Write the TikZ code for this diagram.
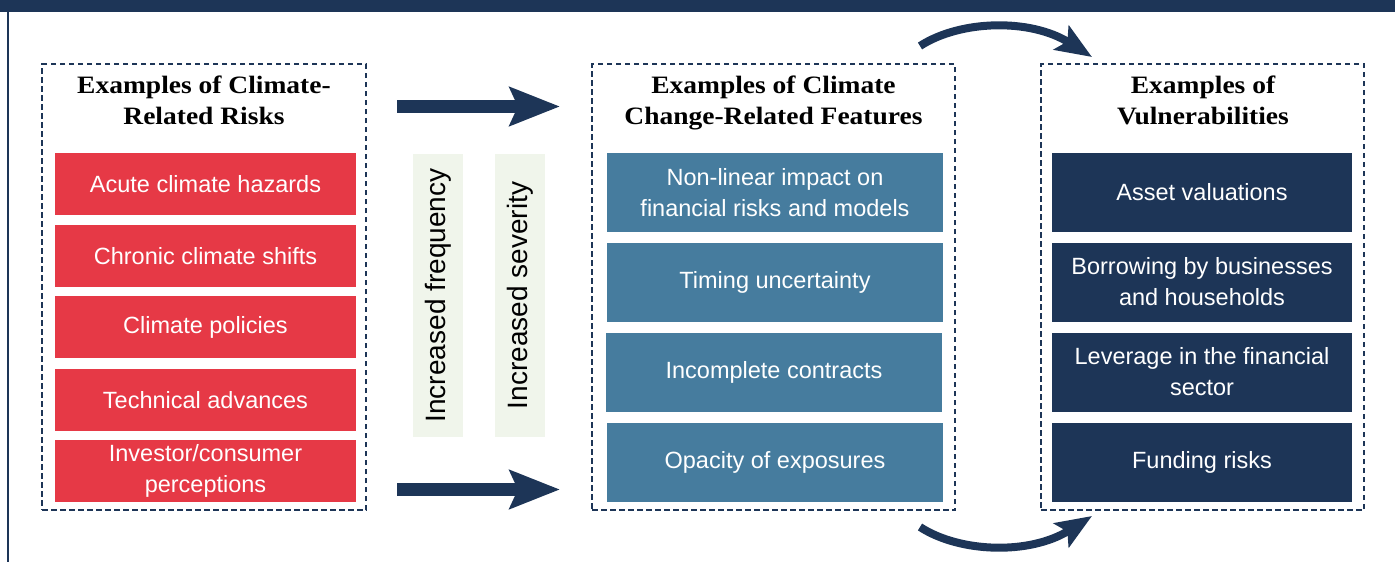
\documentclass[tikz,border=0pt]{standalone}
\usepackage{fontspec}
\setsansfont{Liberation Sans}
\newfontfamily\titlefont{Liberation Serif}[FakeStretch=1.1]
\usetikzlibrary{arrows.meta}
\definecolor{navy}{HTML}{1D3557}
\definecolor{riskred}{HTML}{E63946}
\definecolor{steel}{HTML}{467C9E}
\definecolor{mint}{HTML}{F0F5EB}
\tikzset{
  dashbox/.style={draw=navy, line width=2pt, dash pattern=on 5.5pt off 3.5pt, minimum width=324pt, minimum height=446pt, inner sep=0pt},
  boxtitle/.style={anchor=north, align=center, font=\titlefont\bfseries\fontsize{25}{30.5}\selectfont, text=black},
  item/.style={inner sep=0pt, align=center, text=white, font=\sffamily\fontsize{23.5}{31}\selectfont},
  redbox/.style={item, fill=riskred, minimum width=301pt, minimum height=62pt},
  bluebox/.style={item, fill=steel, minimum width=336pt, minimum height=79pt},
  navybox/.style={item, fill=navy, minimum width=300pt, minimum height=79pt},
  vbox/.style={fill=mint, minimum width=283pt, minimum height=50pt, inner sep=0pt, rotate=90, font=\sffamily\fontsize{28}{32}\selectfont, text=black},
  bigarrow/.style={draw=navy, line width=13pt, -{Stealth[length=50pt, width=38pt, inset=8pt]}},
  curvearrow/.style={draw=navy, line width=8pt, -{Stealth[length=36pt, width=28pt, inset=7pt]}}
}
\begin{document}
\begin{tikzpicture}[x=1pt, y=-1pt]
\useasboundingbox (0,0) rectangle (1395,562);
% frame
\fill[navy] (0,0) rectangle (1395,12);
\draw[navy, line width=2.5pt] (8,12) -- (8,562);

% dashed groups
\node[dashbox] (L) at (204,287) {};
\node[dashbox, minimum width=363pt] (M) at (773.5,287) {};
\node[dashbox, minimum width=323pt] (R) at (1202.5,287) {};

% titles
\node[boxtitle] (Lt) at (204,72.5) {Examples of Climate-\\Related Risks};
\node[boxtitle] (Mt) at (773.5,72.5) {Examples of Climate\\Change-Related Features};
\node[boxtitle] (Rt) at (1203,72.5) {Examples of\\Vulnerabilities};

% risks
\node[redbox] (r1) at (205.5,184) {Acute climate hazards};
\node[redbox] (r2) at (205.5,256) {Chronic climate shifts};
\node[redbox] (r3) at (205.5,327) {Climate policies};
\node[redbox] (r4) at (205.5,400) {Technical advances};
\node[redbox] (r5) at (205.5,470.5) {Investor/consumer\\perceptions};

% features
\node[bluebox] (f1) at (775,192.5) {Non-linear impact on\\financial risks and models};
\node[bluebox] (f2) at (775,282) {Timing uncertainty};
\node[bluebox] (f3) at (774,372) {Incomplete contracts};
\node[bluebox] (f4) at (775,462) {Opacity of exposures};

% vulnerabilities
\node[navybox] (v1) at (1202,192.5) {Asset valuations};
\node[navybox] (v2) at (1202,282) {Borrowing by businesses\\and households};
\node[navybox] (v3) at (1202,372) {Leverage in the financial\\sector};
\node[navybox] (v4) at (1202,462) {Funding risks};

% vertical labels
\node[vbox] (freq) at (438,295.5) {Increased frequency};
\node[vbox] (sev) at (520,295.5) {Increased severity};

% straight arrows
\coordinate (a1s) at (397,106.5);
\coordinate (a1e) at (560,106.5);
\coordinate (a2s) at (397,489.5);
\coordinate (a2e) at (560,489.5);
\draw[bigarrow] (a1s) -- (a1e);
\draw[bigarrow] (a2s) -- (a2e);

% curved arrows
\coordinate (c1s) at (920,46);
\coordinate (c1e) at (1092,57);
\coordinate (c2s) at (920,527);
\coordinate (c2e) at (1092,516);
\draw[curvearrow] (c1s) .. controls (960,20) and (1030,18) .. (c1e);
\draw[curvearrow] (c2s) .. controls (960,553) and (1030,555) .. (c2e);
\end{tikzpicture}
\end{document}
